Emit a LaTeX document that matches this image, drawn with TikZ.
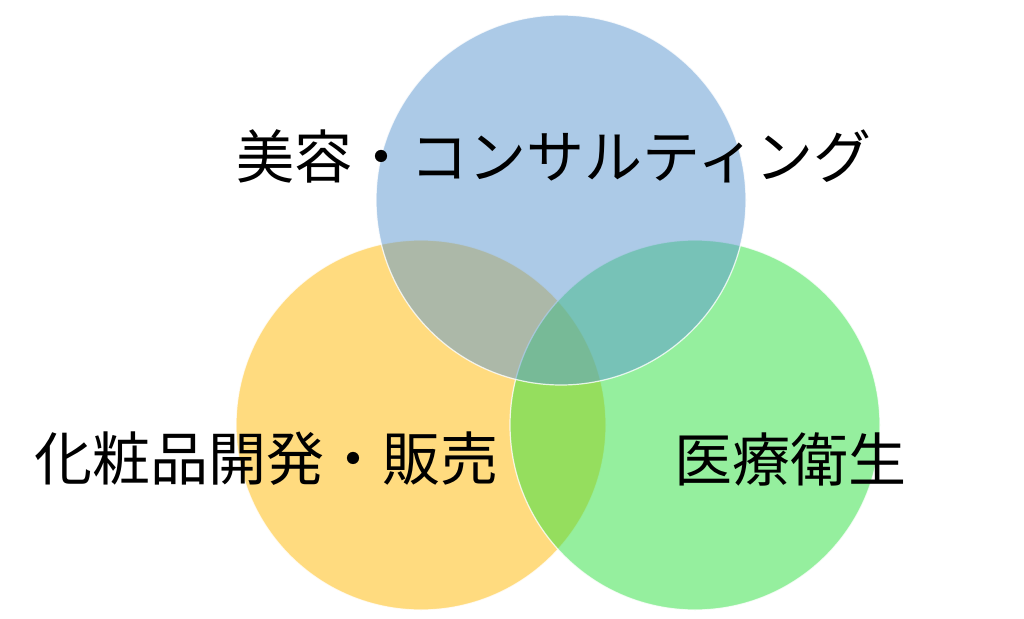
\documentclass[tikz,border=0pt]{standalone}
\usepackage{fontspec}
\setmainfont{Noto Sans CJK JP}
\definecolor{cblue}{RGB}{91,151,209}
\definecolor{cyellow}{RGB}{255,185,1}
\definecolor{cgreen}{RGB}{45,225,63}
\tikzset{
  venn/.style={circle, inner sep=0pt, minimum size=370pt, fill opacity=0.5, draw=white, draw opacity=0.8, line width=1.2pt},
  lbl/.style={font=\fontsize{58}{60}\selectfont, text=black, inner sep=0pt}
}
\begin{document}
\begin{tikzpicture}[x=1pt,y=-1pt]
\useasboundingbox (0,0) rectangle (1024,618);
\fill[white] (0,0) rectangle (1024,618);
\node[venn, fill=cyellow] (yellow) at (421,425) {};
\node[venn, fill=cgreen] (green) at (695,425) {};
\node[venn, fill=cblue] (blue) at (561,200) {};
\node[lbl] (tblue) at (554,156) {美容・コンサルティング};
\node[lbl] (tyellow) at (266,459) {化粧品開発・販売};
\node[lbl] (tgreen) at (790,459) {医療衛生};
\end{tikzpicture}
\end{document}
